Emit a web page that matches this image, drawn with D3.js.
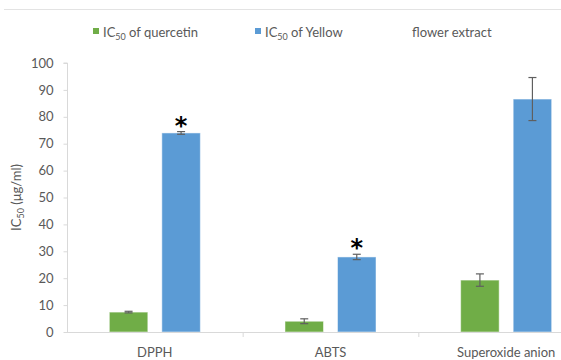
<!DOCTYPE html>
<html>
<head>
  <script src="https://cdn.jsdelivr.net/npm/d3@7"></script>
  <style>
    body { margin: 0; background: #fff; font-family: Lato, "Open Sans", sans-serif; }
  </style>
</head>
<body>
  <div id="chart"></div>
  <script>
    const categories = ["DPPH", "ABTS", "Superoxide anion"];
    const series = ["quercetin", "yellow"];
    const quercetin = [7.4, 4.0, 19.3];
    const quercetinErr = [0.3, 0.9, 2.3];
    const yellow = [74.0, 27.9, 86.6];
    const yellowErr = [0.5, 1.0, 8.0];
    const significant = [true, true, false];
    const yTicks = [0, 10, 20, 30, 40, 50, 60, 70, 80, 90, 100];

    const colors = { quercetin: "#70ad47", yellow: "#5b9bd5" };
    const W = 561, H = 360;
    const m = { left: 67, right: 594, top: 63, bottom: 332 };

    const svg = d3.select("#chart").append("svg")
      .attr("width", W).attr("height", H);

    // chart border line at top
    svg.append("line")
      .attr("x1", 4).attr("x2", W).attr("y1", 9.5).attr("y2", 9.5)
      .attr("stroke", "#e3e3e3");

    const x0 = d3.scaleBand().domain(categories).range([m.left, m.right]);
    const x1 = d3.scaleBand().domain(series).range([0, x0.bandwidth()])
      .paddingInner(0.267).paddingOuter(0.806);
    const y = d3.scaleLinear().domain([0, 100]).range([m.bottom, m.top]);

    // y axis
    const yAxis = svg.append("g")
      .attr("transform", `translate(${m.left + 0.5},0)`)
      .call(d3.axisLeft(y).tickValues(yTicks).tickSize(4).tickPadding(10));
    yAxis.select(".domain").attr("stroke", "#d9d9d9").attr("d", `M-4,${m.top}H0V${m.bottom}`);
    yAxis.selectAll(".tick line").attr("stroke", "#d9d9d9");
    yAxis.selectAll("text").attr("fill", "#595959").style("font-size", "13px")
      .style("font-family", "Lato, sans-serif");

    // bars
    const rows = categories.map((c, i) => ({
      cat: c,
      vals: [
        { key: "quercetin", v: quercetin[i], e: quercetinErr[i] },
        { key: "yellow", v: yellow[i], e: yellowErr[i] }
      ]
    }));

    const g = svg.selectAll("g.grp").data(rows).join("g")
      .attr("class", "grp")
      .attr("transform", d => `translate(${x0(d.cat)},0)`);

    g.selectAll("rect").data(d => d.vals).join("rect")
      .attr("x", d => x1(d.key))
      .attr("width", x1.bandwidth())
      .attr("y", d => y(d.v))
      .attr("height", d => y(0) - y(d.v))
      .attr("fill", d => colors[d.key])
      .attr("stroke", "#ffffff").attr("stroke-opacity", 0.5).attr("stroke-width", 1);

    // error bars
    const eb = g.selectAll("g.err").data(d => d.vals).join("g").attr("class", "err")
      .attr("stroke", "#5f5f5f").attr("stroke-width", 1.2);
    const cx = d => x1(d.key) + x1.bandwidth() / 2;
    eb.append("line").attr("x1", cx).attr("x2", cx)
      .attr("y1", d => y(d.v + d.e)).attr("y2", d => y(d.v - d.e));
    eb.append("line").attr("x1", d => cx(d) - 4).attr("x2", d => cx(d) + 4)
      .attr("y1", d => y(d.v + d.e)).attr("y2", d => y(d.v + d.e));
    eb.append("line").attr("x1", d => cx(d) - 4).attr("x2", d => cx(d) + 4)
      .attr("y1", d => y(d.v - d.e)).attr("y2", d => y(d.v - d.e));

    // asterisks
    svg.selectAll("text.star").data(rows.filter((d, i) => significant[i])).join("text")
      .attr("class", "star")
      .attr("x", d => x0(d.cat) + x1("yellow") + x1.bandwidth() / 2)
      .attr("y", d => y(d.vals[1].v + d.vals[1].e) + 2)
      .attr("text-anchor", "middle")
      .style("font-size", "24px").style("font-weight", "bold")
      .style("font-family", "DejaVu Sans, sans-serif")
      .attr("fill", "#000").text("*");

    // x axis
    svg.append("line")
      .attr("x1", m.left).attr("x2", m.right).attr("y1", m.bottom + 0.5).attr("y2", m.bottom + 0.5)
      .attr("stroke", "#d9d9d9");
    svg.selectAll("line.xt").data(categories.slice(1)).join("line").attr("class", "xt")
      .attr("x1", d => x0(d) + 0.5).attr("x2", d => x0(d) + 0.5)
      .attr("y1", m.bottom).attr("y2", m.bottom + 5).attr("stroke", "#d9d9d9");
    svg.selectAll("text.xl").data(categories).join("text").attr("class", "xl")
      .attr("x", d => x0(d) + x0.bandwidth() / 2)
      .attr("y", 357)
      .attr("text-anchor", "middle").attr("fill", "#595959")
      .style("font-size", "13px").text(d => d);

    // y title
    const yt = svg.append("text")
      .attr("transform", `translate(21,${(m.top + m.bottom) / 2}) rotate(-90)`)
      .attr("text-anchor", "middle").attr("fill", "#595959").style("font-size", "13px");
    yt.append("tspan").text("IC");
    yt.append("tspan").text("50").style("font-size", "9px").attr("dy", 3);
    yt.append("tspan").text(" (μg/ml)").attr("dy", -3);

    // legend
    const legend = [
      { key: "quercetin", x: 93, label: " of quercetin" },
      { key: "yellow", x: 255, label: " of Yellow" }
    ];
    const lg = svg.selectAll("g.lg").data(legend).join("g").attr("class", "lg")
      .attr("transform", d => `translate(${d.x},0)`);
    lg.append("rect").attr("x", 0).attr("y", 28).attr("width", 6).attr("height", 6)
      .attr("fill", d => colors[d.key]);
    const lt = lg.append("text").attr("x", 10).attr("y", 37)
      .attr("fill", "#595959").style("font-size", "13px");
    lt.append("tspan").text("IC");
    lt.append("tspan").text("50").style("font-size", "9px").attr("dy", 3);
    lt.append("tspan").text(d => d.label).attr("dy", -3);
    svg.append("text").attr("x", 412).attr("y", 37).attr("fill", "#595959")
      .style("font-size", "13px").text("flower extract");
  </script>
</body>
</html>
